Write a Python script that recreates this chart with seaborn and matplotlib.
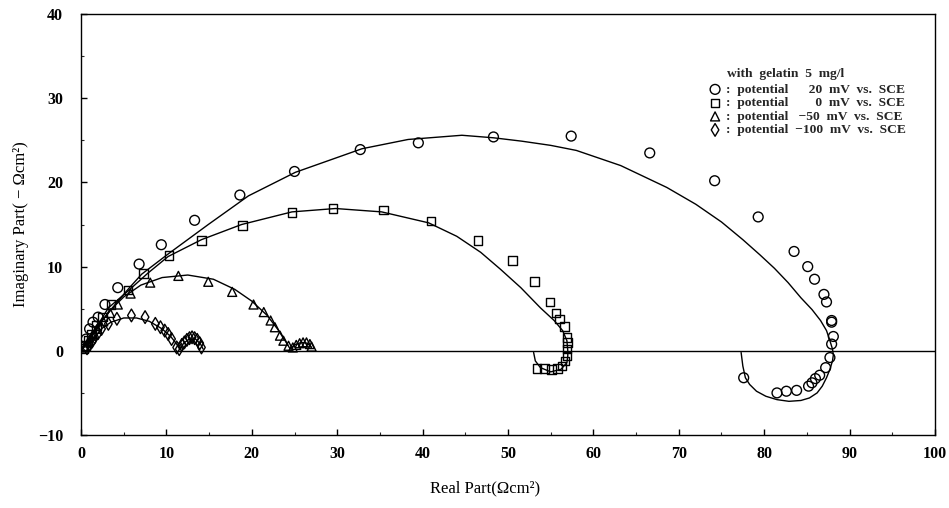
import numpy as np
import pandas as pd
import matplotlib
matplotlib.use("Agg")
import matplotlib.pyplot as plt
import seaborn as sns
from matplotlib.ticker import MultipleLocator

# ---------------- data ----------------
# 20 mV vs SCE (circles)
p20_x = [0.3, 0.6, 1.0, 1.4, 2.0, 2.8, 4.3, 6.8, 9.4, 13.3, 18.6, 25.0, 32.7, 39.5, 48.3,
         57.4, 66.6, 74.2, 79.3, 83.5, 85.1, 85.9, 87.0, 87.3, 87.9, 87.9, 88.1, 87.9, 87.7,
         87.2, 86.5, 86.0, 85.6, 85.2, 83.8, 82.6, 81.5, 77.6]
p20_y = [0.5, 1.4, 2.6, 3.4, 4.0, 5.5, 7.5, 10.3, 12.6, 15.5, 18.5, 21.3, 23.9, 24.7, 25.4,
         25.5, 23.5, 20.2, 15.9, 11.8, 10.0, 8.5, 6.7, 5.8, 3.6, 3.4, 1.7, 0.8, -0.8,
         -2.0, -2.9, -3.3, -3.8, -4.2, -4.7, -4.8, -5.0, -3.2]
f20_x = [0.0, 0.8, 1.6, 2.8, 4.0, 5.5, 7.1, 10.2, 14.9, 19.6, 25.1, 32.9, 38.3, 44.6, 48.3,
         51.6, 55.0, 58.0, 63.2, 68.6, 72.0, 75.0, 77.5, 79.5, 81.2, 82.8, 84.3, 85.6, 86.6, 87.3,
         87.7, 88.0, 88.1, 88.0, 87.7, 87.3, 86.8, 86.2, 85.3, 84.3, 82.9, 81.5, 80.2, 79.1,
         78.3, 77.8, 77.5, 77.3]
f20_y = [0.0, 1.2, 2.4, 4.0, 5.5, 7.3, 9.1, 11.5, 15.0, 18.4, 21.2, 24.0, 25.1, 25.6, 25.3,
         24.9, 24.4, 23.8, 22.0, 19.4, 17.4, 15.3, 13.2, 11.4, 9.8, 8.1, 6.3, 4.9, 3.6, 2.4,
         1.2, 0.2, -0.5, -1.2, -2.2, -3.2, -4.2, -5.0, -5.6, -5.9, -6.0, -5.8, -5.4, -4.8,
         -4.0, -3.2, -1.8, -0.2]

# 0 mV vs SCE (squares)
p0_x = [0.3, 0.5, 0.8, 1.2, 1.8, 2.5, 3.5, 5.5, 7.3, 10.3, 14.1, 18.9, 24.7, 29.5, 35.4,
        41.0, 46.5, 50.5, 53.1, 54.9, 55.6, 56.0, 56.6, 56.9, 57.0, 56.9, 56.9, 56.7, 56.3,
        55.8, 55.1, 54.3, 53.4]
p0_y = [0.3, 0.6, 1.2, 2.0, 3.0, 4.0, 5.5, 7.2, 9.2, 11.3, 13.1, 14.9, 16.4, 16.9, 16.7,
        15.4, 13.1, 10.7, 8.2, 5.8, 4.5, 3.8, 2.9, 1.6, 1.0, 0.2, -0.6, -1.2, -1.8,
        -2.1, -2.2, -2.1, -2.1]
f0_x = [0.0, 1.5, 3.2, 5.5, 7.8, 10.2, 14.1, 18.8, 24.7, 29.8, 35.2, 40.7, 44.0, 46.8, 49.1,
        51.5, 53.8, 55.4, 56.4, 56.9, 57.0, 57.0, 56.9, 56.2, 55.0, 53.8, 53.2, 53.0]
f0_y = [0.0, 2.3, 5.1, 7.1, 9.2, 11.2, 13.2, 15.0, 16.5, 16.9, 16.5, 15.2, 13.6, 11.7, 9.7,
        7.5, 5.1, 3.6, 2.4, 1.2, 0.0, -0.6, -1.4, -2.2, -2.5, -2.0, -1.2, -0.2]

# -50 mV vs SCE (triangles)
pm50_x = [0.4, 0.8, 1.3, 1.9, 2.6, 3.4, 4.3, 5.8, 8.1, 11.4, 14.9, 17.7, 20.2, 21.4, 22.2,
          22.7, 23.3, 23.7, 24.3, 24.8, 25.2, 25.6, 26.0, 26.4, 26.8, 27.0]
pm50_y = [0.4, 1.0, 1.8, 2.6, 3.5, 4.5, 5.5, 6.8, 8.1, 8.9, 8.2, 7.0, 5.5, 4.6, 3.6,
          2.8, 1.8, 1.2, 0.6, 0.4, 0.7, 0.9, 1.0, 1.0, 0.8, 0.5]
fm50_x = [0.7, 1.0, 2.0, 3.5, 5.0, 7.0, 9.5, 12.5, 15.5, 18.0, 20.0, 21.8, 23.0, 23.9, 24.5,
          25.0, 25.8, 26.5, 27.0]
fm50_y = [0.0, 1.6, 3.0, 4.9, 6.4, 7.8, 8.7, 9.0, 8.5, 7.3, 5.9, 4.2, 2.6, 1.2, 0.2,
          0.7, 1.0, 0.9, 0.4]

# -100 mV vs SCE (diamonds)
pm100_x = [0.7, 1.0, 1.3, 1.6, 2.0, 2.4, 3.2, 4.2, 5.9, 7.5, 8.7, 9.3, 9.8, 10.2, 10.6,
           11.2, 11.5, 11.8, 12.1, 12.4, 12.7, 13.0, 13.3, 13.6, 13.9, 14.1]
pm100_y = [0.3, 0.7, 1.1, 1.6, 2.1, 2.6, 3.2, 3.8, 4.2, 4.0, 3.2, 2.8, 2.4, 2.0, 1.4,
           0.4, 0.2, 0.7, 1.0, 1.3, 1.5, 1.6, 1.5, 1.3, 0.9, 0.4]
fm100_x = [0.7, 1.5, 2.5, 3.5, 5.0, 6.5, 8.0, 9.5, 10.5, 11.2, 11.6, 12.0, 12.7, 13.4, 14.0, 14.3]
fm100_y = [0.0, 1.5, 2.7, 3.4, 3.9, 3.9, 3.5, 2.6, 1.7, 0.8, 0.1, 0.9, 1.4, 1.4, 0.8, 0.2]

series_labels = [":  potential      20  mV  vs.  SCE",
                 ":  potential        0  mV  vs.  SCE",
                 ":  potential   \u221250  mV  vs.  SCE",
                 ":  potential  \u2212100  mV  vs.  SCE"]
legend_title = "with  gelatin  5  mg/l"
x_ticks = [0, 10, 20, 30, 40, 50, 60, 70, 80, 90, 100]
y_ticks = [-10, 0, 10, 20, 30, 40]

# ---------------- style ----------------
sns.set_theme(style="ticks")
plt.rcParams['font.family'] = ['Liberation Serif', 'DejaVu Serif']
plt.rcParams['axes.unicode_minus'] = True

fig = plt.figure(figsize=(9.49, 5.08), dpi=100)
ax = fig.add_axes([0.0854, 0.1437, 0.8998, 0.8287])

ax.axhline(0, color='black', lw=1.0, zorder=1)

points = [(p20_x, p20_y, 'o', 50), (p0_x, p0_y, 's', 38),
          (pm50_x, pm50_y, '^', 42), (pm100_x, pm100_y, 'd', 42)]
fits = [(f20_x, f20_y), (f0_x, f0_y), (fm50_x, fm50_y), (fm100_x, fm100_y)]

for fx, fy in fits:
    sns.lineplot(data=pd.DataFrame({'x': fx, 'y': fy}), x='x', y='y', sort=False,
                 estimator=None, color='black', lw=1.0, ax=ax, zorder=2)

handles = []
for (px, py, mk, sz), lab in zip(points, series_labels):
    sns.scatterplot(data=pd.DataFrame({'x': px, 'y': py}), x='x', y='y', marker=mk, s=sz,
                    facecolors='none', edgecolors='black', linewidths=1.0, ax=ax, zorder=3,
                    label=lab, legend=False)
    handles.append(ax.collections[-1])

ax.set_xlim(0, 100)
ax.set_ylim(-10, 40)
ax.set_xticks(x_ticks)
ax.set_yticks(y_ticks)
ax.set_xticklabels([str(t) for t in x_ticks])
ax.set_yticklabels([str(t).replace('-', '\u2212') for t in y_ticks])
ax.xaxis.set_minor_locator(MultipleLocator(5))
ax.yaxis.set_minor_locator(MultipleLocator(5))
ax.tick_params(which='major', direction='in', length=4, width=1.0, top=False, right=False,
               labelsize=11.5, colors='black')
ax.tick_params(axis='y', which='major', pad=13)
ax.tick_params(axis='x', which='major', pad=8)
ax.tick_params(which='minor', direction='in', length=2.5, width=0.8, top=False, right=False)
for lbl in ax.get_xticklabels() + ax.get_yticklabels():
    lbl.set_fontweight('bold')
for sp in ax.spines.values():
    sp.set_color('black')
    sp.set_linewidth(1.0)

ax.set_xlabel("Real Part(\u03a9cm\u00b2)", fontsize=12, labelpad=13, color='black')
ax.xaxis.label.set_x(0.473)
ax.set_ylabel("Imaginary Part( \u2212 \u03a9cm\u00b2)", fontsize=12, labelpad=6, color='black')

legfont = {'family': ['Liberation Serif', 'DejaVu Serif'], 'weight': 'bold', 'size': 9.7}
ax.text(0.7565, 0.858, legend_title, transform=ax.transAxes, fontdict=legfont,
        ha='left', va='center')
leg = ax.legend(handles, series_labels, loc='upper left', bbox_to_anchor=(0.735, 0.835),
                frameon=False, prop=legfont, borderpad=0, borderaxespad=0,
                handlelength=0.95, handletextpad=0.35, labelspacing=0.08)

fig.savefig("out.png", dpi=100)
